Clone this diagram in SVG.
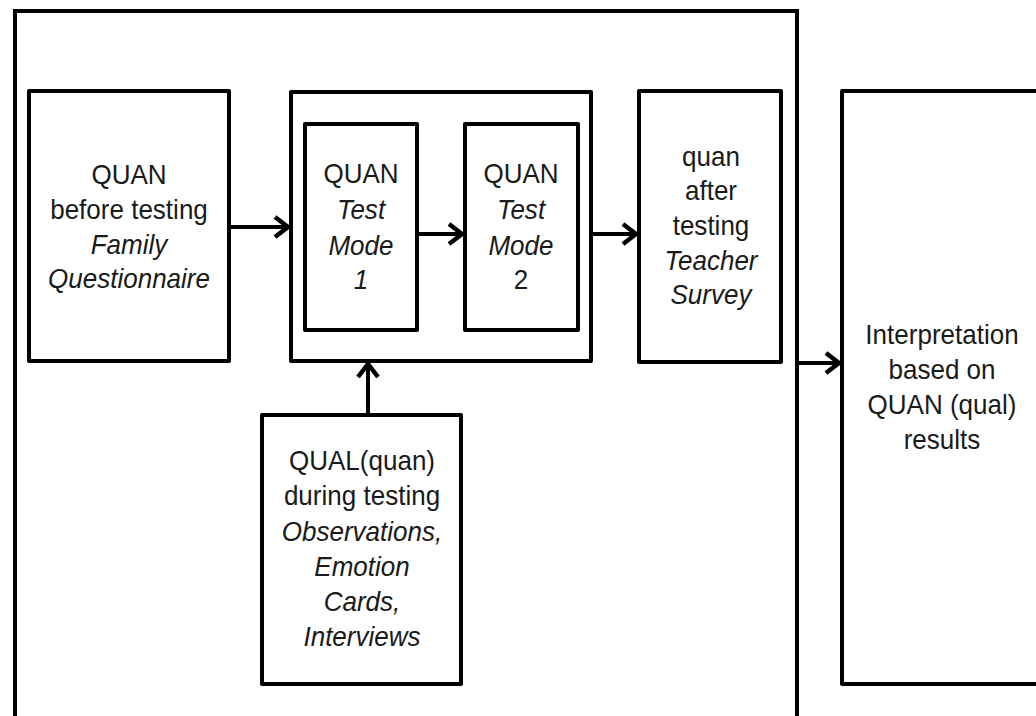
<svg xmlns="http://www.w3.org/2000/svg" width="1036" height="716" viewBox="0 0 1036 716">
<style>
.box{fill:#fff;stroke:#000;stroke-width:4;stroke-linejoin:round}
.frame{fill:none;stroke:#000;stroke-width:4}
.con{fill:none;stroke:#000;stroke-width:4}
text{font-family:"Liberation Sans",Arial,sans-serif;font-size:28px;fill:#1a1a1a;text-anchor:middle}
.it{font-style:italic}
</style>
<defs>
<marker id="ah" markerUnits="userSpaceOnUse" viewBox="0 0 20 26" markerWidth="20" markerHeight="26" refX="17" refY="13" orient="auto">
<path d="M3,3 L16,13 L3,23" fill="none" stroke="#000" stroke-width="4.5" stroke-linejoin="miter"/>
</marker>
</defs>
<rect width="1036" height="716" fill="#fff"/>
<g id="frame">
<path class="frame" d="M15,716 V11 H797 V716"/>
</g>
<g id="family">
<rect class="box" x="29" y="91" width="200" height="270"/>
<g transform="translate(129 0) scale(0.93 1)">
<text x="0" y="184">QUAN</text>
<text x="0" y="219">before testing</text>
<text x="0" y="254" class="it">Family</text>
<text x="0" y="288" class="it">Questionnaire</text>
</g>
</g>
<g id="testing">
<rect class="box" x="291" y="92" width="300" height="269"/>
</g>
<g id="mode1">
<rect class="box" x="305" y="124" width="112" height="206"/>
<g transform="translate(361 0) scale(0.93 1)">
<text x="0" y="183">QUAN</text>
<text x="0" y="219" class="it">Test</text>
<text x="0" y="255" class="it">Mode</text>
<text x="0" y="289" class="it">1</text>
</g>
</g>
<g id="mode2">
<rect class="box" x="465" y="124" width="113" height="206"/>
<g transform="translate(521 0) scale(0.93 1)">
<text x="0" y="183">QUAN</text>
<text x="0" y="219" class="it">Test</text>
<text x="0" y="255" class="it">Mode</text>
<text x="0" y="289">2</text>
</g>
</g>
<g id="teacher">
<rect class="box" x="639" y="91" width="142" height="271"/>
<g transform="translate(711 0) scale(0.93 1)">
<text x="0" y="166">quan</text>
<text x="0" y="200">after</text>
<text x="0" y="235">testing</text>
<text x="0" y="270" class="it">Teacher</text>
<text x="0" y="304" class="it">Survey</text>
</g>
</g>
<g id="interpretation">
<rect class="box" x="842" y="91" width="210" height="593"/>
<g transform="translate(942 0) scale(0.93 1)">
<text x="0" y="344">Interpretation</text>
<text x="0" y="379">based on</text>
<text x="0" y="414">QUAN (qual)</text>
<text x="0" y="449">results</text>
</g>
</g>
<g id="qual">
<rect class="box" x="262" y="415" width="199" height="269"/>
<g transform="translate(362 0) scale(0.93 1)">
<text x="0" y="470">QUAL(quan)</text>
<text x="0" y="505">during testing</text>
<text x="0" y="541" class="it">Observations,</text>
<text x="0" y="576" class="it">Emotion</text>
<text x="0" y="611" class="it">Cards,</text>
<text x="0" y="646" class="it">Interviews</text>
</g>
</g>
<g id="connectors">
<line class="con" x1="231" y1="227" x2="289" y2="227" marker-end="url(#ah)"/>
<line class="con" x1="419" y1="234" x2="463" y2="234" marker-end="url(#ah)"/>
<line class="con" x1="593" y1="234" x2="637" y2="234" marker-end="url(#ah)"/>
<line class="con" x1="799" y1="363" x2="840" y2="363" marker-end="url(#ah)"/>
<line class="con" x1="368" y1="413" x2="368" y2="363" marker-end="url(#ah)"/>
</g>
</svg>
